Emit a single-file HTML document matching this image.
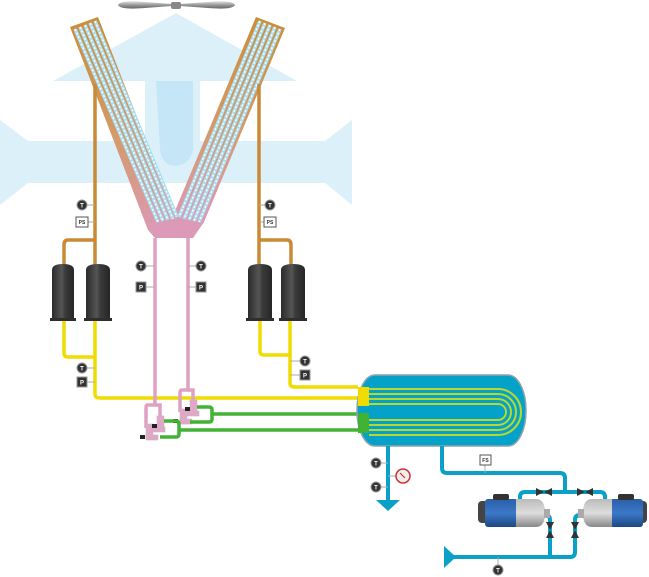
<!DOCTYPE html>
<html><head><meta charset="utf-8"><style>
html,body{margin:0;padding:0;background:#fff;}
svg{display:block;font-family:"Liberation Sans",sans-serif;}
</style></head><body>
<svg width="649" height="577" viewBox="0 0 649 577" xmlns="http://www.w3.org/2000/svg">
<defs>
<linearGradient id="coil" x1="0" y1="0" x2="0" y2="1">
<stop offset="0" stop-color="#cc8d36"/><stop offset="0.55" stop-color="#d49a6a"/><stop offset="1" stop-color="#dc9ab8"/></linearGradient>
<linearGradient id="fan" x1="0" y1="0" x2="0" y2="1"><stop offset="0" stop-color="#ddd"/><stop offset="0.5" stop-color="#999"/><stop offset="1" stop-color="#666"/></linearGradient>
<linearGradient id="comp" x1="0" y1="0" x2="1" y2="0"><stop offset="0" stop-color="#2b2b2b"/><stop offset="0.45" stop-color="#555"/><stop offset="0.6" stop-color="#3a3a3a"/><stop offset="1" stop-color="#262626"/></linearGradient>
<linearGradient id="motor" x1="0" y1="0" x2="0" y2="1"><stop offset="0" stop-color="#2a5fa8"/><stop offset="0.5" stop-color="#3b78c8"/><stop offset="1" stop-color="#1d4784"/></linearGradient>
<linearGradient id="pump" x1="0" y1="0" x2="0" y2="1"><stop offset="0" stop-color="#bbb"/><stop offset="0.5" stop-color="#ddd"/><stop offset="1" stop-color="#888"/></linearGradient>
</defs>

<g fill="#dcf0fa">
<polygon points="176,13 297,81 53,81"/>
<path d="M145,81 H200 V150 Q200,170 176,172 Q145,170 145,150 Z"/>
<polygon points="0,120 28,141 325,141 352,120 352,205 325,183 28,183 0,205"/>
</g>
<path d="M156,81 H193 V150 Q190,165 175,166 Q162,165 160,150 Z" fill="#c5e6f6"/>

<path d="M118,5 Q120,0 145,2 L172,4 L180,4 L208,2 Q233,0 235,5 Q233,10 208,8 L180,6 L172,6 L145,8 Q120,10 118,5 Z" fill="url(#fan)"/>
<rect x="171" y="2" width="10" height="7" rx="2" fill="#888"/>

<polygon points="70,27 98,17 178,222 204,222 192,238 155,238 148,230" fill="url(#coil)"/>
<polygon points="256,17 285,28 204,222 178,222 172,218" fill="url(#coil)"/>
<polygon points="148,222 204,222 193,238 155,238" fill="#dc9ab8"/>
<g stroke="#a9dcef" stroke-width="3.6">
<line x1="75" y1="29" x2="158" y2="222"/><line x1="80" y1="27" x2="163" y2="221"/><line x1="85" y1="25" x2="168" y2="220"/><line x1="90" y1="23" x2="173" y2="219"/><line x1="95" y1="21" x2="177" y2="217"/>
<line x1="260" y1="21" x2="179" y2="217"/><line x1="265" y1="23" x2="184" y2="219"/><line x1="270" y1="25" x2="189" y2="220"/><line x1="275" y1="27" x2="194" y2="221"/><line x1="280" y1="29" x2="199" y2="222"/>
</g>
<g stroke="#fff" stroke-width="1.4" stroke-dasharray="2 2">
<line x1="75" y1="29" x2="158" y2="222"/><line x1="80" y1="27" x2="163" y2="221"/><line x1="85" y1="25" x2="168" y2="220"/><line x1="90" y1="23" x2="173" y2="219"/><line x1="95" y1="21" x2="177" y2="217"/>
<line x1="260" y1="21" x2="179" y2="217"/><line x1="265" y1="23" x2="184" y2="219"/><line x1="270" y1="25" x2="189" y2="220"/><line x1="275" y1="27" x2="194" y2="221"/><line x1="280" y1="29" x2="199" y2="222"/>
</g>

<g fill="none" stroke="#c98a35" stroke-width="3.5">
<path d="M95,84 V265"/><path d="M95,240 H68 Q64,240 64,245 V265"/>
<path d="M259,84 V265"/><path d="M259,240 H287 Q291,240 291,245 V265"/>
</g>
<g fill="url(#comp)">
<path d="M52,270 Q52,264 63,264 Q74,264 74,270 V318 H52 Z"/>
<path d="M86,270 Q86,264 98,264 Q110,264 110,270 V318 H86 Z"/>
<path d="M248,270 Q248,264 260,264 Q272,264 272,270 V318 H248 Z"/>
<path d="M281,270 Q281,264 293,264 Q305,264 305,270 V318 H281 Z"/>
</g>
<g fill="#2e2e2e"><rect x="50" y="318" width="26" height="3"/><rect x="84" y="318" width="28" height="3"/><rect x="246" y="318" width="28" height="3"/><rect x="279" y="318" width="28" height="3"/></g>

<g fill="none" stroke="#f0dc00" stroke-width="3.5">
<path d="M64,321 V353 Q64,357 68,357 H95"/><path d="M95,321 V394 Q95,398 100,398 H358"/>
<path d="M260,321 V351 Q260,355 264,355 H290"/><path d="M290,321 V383 Q290,387 295,387 H358"/>
</g>

<g fill="none" stroke="#e0a0c2" stroke-width="3.5">
<path d="M155,238 V405 H147 Q146,405 146,408 V428"/>
<path d="M188,238 V390 H182 Q180,390 180,393 V412"/>
<path d="M155,405 H160 V420"/><path d="M188,390 H193 V405"/>
</g>
<g fill="#e4a6c6" stroke="#bbb" stroke-width="0.6">
<rect x="157" y="416" width="7" height="14"/><rect x="146" y="424" width="7" height="15"/><rect x="153" y="427" width="12" height="5"/><rect x="146" y="435" width="12" height="5"/>
<rect x="190" y="400" width="7" height="14"/><rect x="180" y="409" width="7" height="15"/><rect x="187" y="411" width="12" height="5"/><rect x="180" y="419" width="12" height="5"/>
</g>
<g fill="#222"><rect x="140" y="435" width="5" height="4"/><rect x="152" y="424" width="5" height="4"/><rect x="173" y="419" width="5" height="4"/><rect x="185" y="407" width="5" height="4"/></g>

<g fill="none" stroke="#42b234" stroke-width="3.5">
<path d="M197,407 H209 Q212,407 212,410 V419 Q212,422 209,422 H190"/><path d="M212,414 H358"/>
<path d="M164,421 H176 Q179,421 179,424 V434 Q179,437 176,437 H160"/><path d="M179,430 H358"/>
</g>

<rect x="357" y="375" width="169" height="71" rx="18" ry="35" fill="#04a2c9" stroke="#8fa4ad" stroke-width="1.5"/>
<rect x="358" y="387" width="11" height="19" fill="#f0dc00"/>
<rect x="358" y="413" width="11" height="20" fill="#42b234"/>
<g fill="none" stroke="#b9d82a" stroke-width="2">
<path d="M369,389 H498 A23,23 0 0 1 498,435 H369"/>
<path d="M369,394 H498 A18,18 0 0 1 498,430 H369"/>
<path d="M369,399 H498 A13,13 0 0 1 498,425 H369"/>
<path d="M369,404 H498 A8,8 0 0 1 498,420 H369"/>
</g>

<g fill="none" stroke="#0aa0c8" stroke-width="4">
<path d="M388,446 V500"/>
<path d="M442,446 V468 Q442,473 447,473 H560 Q565,473 565,478 V492 H600 Q605,492 605,497 V502"/>
<path d="M565,492 H525 Q520,492 520,497 V502"/>
<path d="M452,557 H570 Q575,557 575,552 V520 Q575,515 580,515 H582"/>
<path d="M550,557 V520 Q550,515 545,515 H540"/>
</g>
<polygon points="376,500 400,500 388,511" fill="#0aa0c8"/>
<polygon points="444,546 456,557 444,568" fill="#0aa0c8"/>
<g fill="#333">
<polygon points="536,488 536,496 544,492"/><polygon points="552,488 552,496 544,492"/>
<polygon points="577,488 577,496 585,492"/><polygon points="593,488 593,496 585,492"/>
<polygon points="546,522 554,522 550,530"/><polygon points="546,538 554,538 550,530"/>
<polygon points="571,522 579,522 575,530"/><polygon points="571,538 579,538 575,530"/>
</g>
<g>
<rect x="478" y="501" width="10" height="22" rx="4" fill="#444"/>
<rect x="485" y="499" width="33" height="28" rx="3" fill="url(#motor)"/>
<rect x="493" y="494" width="16" height="6" rx="2" fill="#333"/>
<path d="M516,499 H536 Q545,499 545,513 Q545,527 536,527 H516 Z" fill="url(#pump)"/>
<rect x="544" y="509" width="6" height="9" fill="#aaa"/>
<rect x="637" y="501" width="10" height="22" rx="4" fill="#444"/>
<rect x="610" y="499" width="33" height="28" rx="3" fill="url(#motor)"/>
<rect x="618" y="494" width="16" height="6" rx="2" fill="#333"/>
<path d="M612,499 H592 Q583,499 583,513 Q583,527 592,527 H612 Z" fill="url(#pump)"/>
<rect x="578" y="509" width="6" height="9" fill="#aaa"/>
</g>

<g stroke="#aaa" stroke-width="1">
<line x1="82" y1="205" x2="95" y2="205"/><line x1="82" y1="222" x2="95" y2="222"/>
<line x1="259" y1="205" x2="271" y2="205"/><line x1="259" y1="222" x2="271" y2="222"/>
<line x1="141" y1="266" x2="155" y2="266"/><line x1="141" y1="287" x2="155" y2="287"/>
<line x1="188" y1="266" x2="201" y2="266"/><line x1="188" y1="287" x2="201" y2="287"/>
<line x1="82" y1="368" x2="95" y2="368"/><line x1="82" y1="382" x2="95" y2="382"/>
<line x1="290" y1="361" x2="305" y2="361"/><line x1="290" y1="375" x2="305" y2="375"/>
<line x1="376" y1="463" x2="388" y2="463"/><line x1="376" y1="487" x2="388" y2="487"/><line x1="388" y1="476" x2="403" y2="476"/>
<line x1="485" y1="465" x2="485" y2="473"/><line x1="498" y1="557" x2="498" y2="570"/>
</g>
<g font-size="6" font-weight="bold" text-anchor="middle">
<g fill="#333" stroke="#999" stroke-width="1">
<circle cx="82" cy="205" r="5"/><circle cx="270" cy="205" r="5"/><circle cx="141" cy="266" r="5"/><circle cx="201" cy="266" r="5"/>
<circle cx="82" cy="368" r="5"/><circle cx="305" cy="361" r="5"/><circle cx="376" cy="463" r="5"/><circle cx="376" cy="487" r="5"/><circle cx="498" cy="570" r="5"/>
<rect x="136" y="282" width="10" height="10"/><rect x="196" y="282" width="10" height="10"/><rect x="77" y="377" width="10" height="10"/><rect x="300" y="370" width="10" height="10"/>
</g>
<g fill="#fff">
<text x="82" y="207.5">T</text><text x="270" y="207.5">T</text><text x="141" y="268.5">T</text><text x="201" y="268.5">T</text>
<text x="82" y="370.5">T</text><text x="305" y="363.5">T</text><text x="376" y="465.5">T</text><text x="376" y="489.5">T</text><text x="498" y="572.5">T</text>
<text x="141" y="289.5">P</text><text x="201" y="289.5">P</text><text x="82" y="384.5">P</text><text x="305" y="377.5">P</text>
</g>
<g fill="#fff" stroke="#555" stroke-width="1"><rect x="76" y="217" width="12" height="10"/><rect x="264" y="217" width="12" height="10"/><rect x="480" y="455" width="11" height="10"/></g>
<g fill="#333" font-size="5"><text x="82" y="224">PS</text><text x="270" y="224">PS</text><text x="485.5" y="462">FS</text></g>
</g>
<circle cx="403" cy="476" r="7" fill="#eee" stroke="#c33" stroke-width="1.5"/>
<line x1="400" y1="473" x2="405" y2="478" stroke="#c33" stroke-width="1.2"/>
</svg>
</body></html>
